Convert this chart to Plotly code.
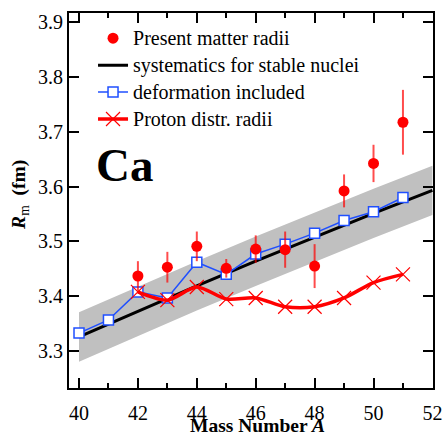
import plotly.graph_objects as go

# ---- data ----
A_exp = [42, 43, 44, 45, 46, 47, 48, 49, 50, 51]
R_exp = [3.437, 3.453, 3.491, 3.451, 3.486, 3.485, 3.455, 3.592, 3.642, 3.717]
R_err = [0.027, 0.028, 0.027, 0.017, 0.025, 0.033, 0.040, 0.030, 0.034, 0.059]

A_sys = [40, 42, 44, 46, 48, 50, 52]
R_sys = [3.326, 3.373, 3.419, 3.464, 3.508, 3.551, 3.593]
band_half = 0.045

A_def = [40, 41, 42, 43, 44, 45, 46, 47, 48, 49, 50, 51]
R_def = [3.333, 3.357, 3.408, 3.397, 3.462, 3.440, 3.477, 3.495, 3.515, 3.538, 3.554, 3.580]

A_p = [42, 43, 44, 45, 46, 47, 48, 49, 50, 51]
R_p = [3.408, 3.393, 3.417, 3.395, 3.397, 3.381, 3.381, 3.397, 3.425, 3.440]

legend_names = ["Present matter radii", "systematics for stable nuclei",
                "deformation included", "Proton distr. radii"]

FONT = "Liberation Serif"
RED = "#ff0000"
BLUE = "#1f4fff"


def lname(s):
    return '<span style="font-size:20px">' + s + '</span>'


fig = go.Figure()

# gray band
band_up = [r + band_half for r in R_sys]
band_lo = [r - band_half for r in R_sys]
fig.add_trace(go.Scatter(x=A_sys + A_sys[::-1], y=band_up + band_lo[::-1],
                         fill="toself", fillcolor="#c0c0c0", line=dict(width=0),
                         mode="lines", showlegend=False, hoverinfo="skip"))

fig.add_trace(go.Scatter(x=A_sys, y=R_sys, mode="lines", name=lname(legend_names[1]),
                         line=dict(color="black", width=3), legendrank=2))

fig.add_trace(go.Scatter(x=A_def, y=R_def, mode="lines+markers", name=lname(legend_names[2]),
                         line=dict(color=BLUE, width=1.5),
                         marker=dict(symbol="square", size=10, color="white",
                                     line=dict(color=BLUE, width=1.5)),
                         legendrank=3))

fig.add_trace(go.Scatter(x=A_p, y=R_p, mode="lines+markers", name=lname(legend_names[3]),
                         line=dict(color=RED, width=3.5, shape="spline", smoothing=0.8),
                         marker=dict(symbol="x-thin", size=14, line=dict(color=RED, width=1.2)),
                         legendrank=4))

fig.add_trace(go.Scatter(x=A_exp, y=R_exp, mode="markers", name=lname(legend_names[0]),
                         marker=dict(symbol="circle", size=11, color=RED),
                         error_y=dict(type="data", array=R_err, color="rgba(255,0,0,0.7)",
                                      thickness=2, width=0),
                         legendrank=1))

fig.add_annotation(x=41.53, y=3.640, text="<b>Ca</b>", showarrow=False,
                   font=dict(family=FONT, size=47, color="black"),
                   xanchor="center", yanchor="middle")

# axis titles as annotations (precise placement)
fig.add_annotation(xref="paper", yref="paper", x=0.519, y=-0.099,
                   text="<b>Mass Number <i>A</i></b>", showarrow=False,
                   font=dict(family=FONT, size=19.5, color="black"),
                   xanchor="center", yanchor="middle")
fig.add_annotation(xref="paper", yref="paper", x=-0.1346, y=0.515,
                   text="<b><i>R</i></b><sub>m</sub>  <b>(fm)</b>", showarrow=False,
                   textangle=-90,
                   font=dict(family=FONT, size=19.5, color="black"),
                   xanchor="center", yanchor="middle")

axis_common = dict(showgrid=False, zeroline=False, showline=True, linecolor="black",
                   linewidth=2, mirror="ticks", ticks="inside", ticklen=10,
                   tickwidth=1.5, tickcolor="black", automargin=False,
                   tickfont=dict(family=FONT, size=20, color="black"))

fig.update_xaxes(range=[39.66, 52.02], tick0=40, dtick=2, ticklabelstandoff=6,
                 minor=dict(ticks="inside", ticklen=5, tickwidth=1.5, dtick=1, tickcolor="black"),
                 **axis_common)
fig.update_yaxes(range=[3.233, 3.916], tick0=3.3, dtick=0.1, tickformat=".1f",
                 **axis_common)

fig.update_layout(
    width=443, height=435,
    margin=dict(l=69, r=10, t=13, b=47),
    paper_bgcolor="white", plot_bgcolor="white",
    font=dict(family=FONT, size=18.4, color="black"),
    legend=dict(x=0.066, y=0.982, xanchor="left", yanchor="top",
                bgcolor="rgba(0,0,0,0)", borderwidth=0,
                font=dict(family=FONT, size=18.4, color="black"),
                itemwidth=30, tracegroupgap=0),
)

fig.write_html("out.html")
